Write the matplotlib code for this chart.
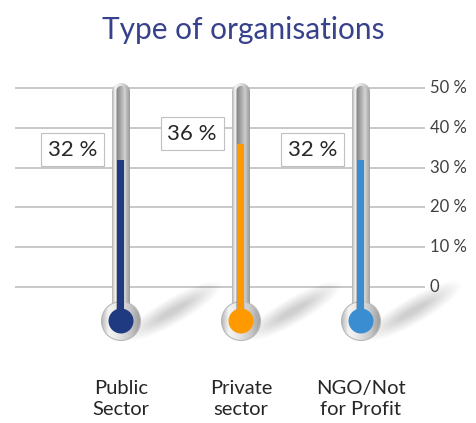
import numpy as np
import matplotlib.pyplot as plt
from matplotlib.patches import Polygon, Ellipse, Rectangle
from matplotlib.colors import LinearSegmentedColormap

categories = ["Public\nSector", "Private\nsector", "NGO/Not\nfor Profit"]
values = [32, 36, 32]
colors = ["#1F3A80", "#FF9900", "#3A8DD0"]
ticks = [0, 10, 20, 30, 40, 50]
tick_labels = ["0", "10 %", "20 %", "30 %", "40 %", "50 %"]
title = "Type of organisations"

plt.rcParams['font.family'] = ['Lato', 'DejaVu Sans']

fig = plt.figure(figsize=(4.77, 4.23), dpi=100)
ax = fig.add_axes([0, 0, 1, 1])
ax.axis('off')

# data units per pixel: one category = 120 px, 10 % = 39.8 px
sx = 1 / 120.0
sy = 10 / 39.8
XLIM = (-121 * sx, (477 - 121) * sx)
YLIM = (-(423 - 287) * sy, 287 * sy)

tube_cmap = LinearSegmentedColormap.from_list(
    "tube", [(0, "#B4B4B4"), (0.18, "#F4F4F4"), (0.4, "#E8E8E8"),
             (0.75, "#C6C6C6"), (1, "#9A9A9A")])
chan_cmap = LinearSegmentedColormap.from_list(
    "chan", [(0, "#7E7E7E"), (0.5, "#ABABAB"), (1, "#DCDCDC")])
grad = np.linspace(0, 1, 64).reshape(1, -1)


def rounded_tube(xc, y0, y1, half_w):
    # rectangle with round top, in data units (half_w given in px)
    r = half_w
    cy = y1 - r * sy
    t = np.linspace(np.pi, 0, 30)
    top = np.column_stack([xc + r * sx * np.cos(t), cy + r * sy * np.sin(t)])
    pts = [(xc - r * sx, y0)] + top.tolist() + [(xc + r * sx, y0)]
    return Polygon(pts, closed=True)


def shaded(patch, cmap, x0, x1, y0, y1, z):
    patch.set_facecolor("none")
    patch.set_edgecolor("none")
    ax.add_patch(patch)
    im = ax.imshow(grad, cmap=cmap, extent=[x0, x1, y0, y1], aspect='auto',
                   zorder=z, interpolation='bilinear')
    im.set_clip_path(patch)


# gridlines
ax.hlines(ticks, -106 * sx, 304 * sx, color="#C8C8C8", lw=1.4, zorder=1)
for t, lab in zip(ticks, tick_labels):
    ax.text(309 * sx, t, lab, ha='left', va='center', fontsize=12,
            color="#404040")

top_v = (287 - 83) * sy
bulb_v = (287 - 321) * sy

for i, (v, c) in enumerate(zip(values, colors)):
    x = i
    # soft shadow from the bulb towards upper right
    ang = np.deg2rad(30)
    for k in range(12):
        L = 110 - k * 7
        W = 26 - k * 1.9
        t = np.linspace(0, 2 * np.pi, 60)
        ex = L / 2 * np.cos(t)
        ey = W / 2 * np.sin(t)
        rx = ex * np.cos(ang) - ey * np.sin(ang) + 52
        ry = ex * np.sin(ang) + ey * np.cos(ang) + 10
        ax.add_patch(Polygon(np.column_stack([x + rx * sx, bulb_v + ry * sy]),
                             closed=True, facecolor="#000000", alpha=0.014,
                             edgecolor="none", zorder=2))

    # glass tube and bulb
    shaded(rounded_tube(x, bulb_v, top_v, 9), tube_cmap,
           x - 9 * sx, x + 9 * sx, bulb_v, top_v, 3)
    bulb = Ellipse((x, bulb_v), 39 * sx, 39 * sy)
    shaded(bulb, tube_cmap, x - 20 * sx, x + 20 * sx,
           bulb_v - 20 * sy, bulb_v + 20 * sy, 3)
    ax.add_patch(Ellipse((x, bulb_v), 39 * sx, 39 * sy, facecolor="none",
                         edgecolor="#B8B8B8", lw=0.8, zorder=4))
    # inner channel
    shaded(rounded_tube(x, bulb_v, top_v - 3 * sy, 4.5), chan_cmap,
           x - 5 * sx, x + 5 * sx, bulb_v, top_v, 4)
    # liquid
    ax.add_patch(Rectangle((x - 3.5 * sx, bulb_v), 7 * sx, v - bulb_v,
                           facecolor=c, edgecolor="none", zorder=5))
    ax.add_patch(Ellipse((x, bulb_v), 25 * sx, 25 * sy, facecolor=c,
                         edgecolor="none", zorder=5))

    # data label
    ax.text(x - 24 * sx, v + 2.5, f"{v} %", ha='right', va='center',
            fontsize=16, color="#262626", zorder=6,
            bbox=dict(boxstyle="square,pad=0.3", facecolor="white",
                      edgecolor="#C0C0C0", lw=0.8))

    # category label
    ax.text(x, (287 - 399) * sy, categories[i], ha='center', va='center',
            fontsize=14.5, color="#262626", linespacing=1.3)

ax.text((243 - 121) * sx, (287 - 30) * sy, title, ha='center', va='center',
        fontsize=21.5, color="#37428A")

ax.set_xlim(*XLIM)
ax.set_ylim(*YLIM)
fig.savefig("out.png", dpi=100)
